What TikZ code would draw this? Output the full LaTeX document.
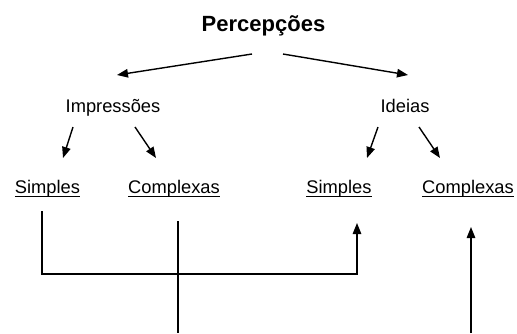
\documentclass[tikz,border=0pt]{standalone}
\usepackage{fontspec}
\setmainfont{Liberation Sans}
\usetikzlibrary{arrows.meta}
\begin{document}
\begin{tikzpicture}[x=1pt,y=-1pt,
  lbl/.style={inner sep=0pt,anchor=base,font=\fontsize{18.3}{22}\selectfont},
  ttl/.style={inner sep=0pt,anchor=base,font=\fontsize{22}{26}\selectfont\bfseries},
  arr/.style={line width=1.4pt,-{Triangle[length=11pt,width=8.5pt]}},
  ln/.style={line width=1.4pt},
  ul/.style={line width=1.2pt}]
\useasboundingbox (0,0) rectangle (517,333);
\node[ttl] (p) at (263.5,31) {Percepções};
\node[lbl] (imp) at (113,112) {Impressões};
\node[lbl] (id) at (405,112) {Ideias};
\node[lbl] (s1) at (47.5,193.5) {Simples};
\node[lbl] (c1) at (174,193.5) {Complexas};
\node[lbl] (s2) at (339,193.5) {Simples};
\node[lbl] (c2) at (468,193.5) {Complexas};
\foreach \n in {s1,c1,s2,c2}
  \draw[ul] ([yshift=-3pt]\n.base west) -- ([yshift=-3pt]\n.base east);
\draw[arr] ([shift={(-11.5,23)}]p.base) -- ([shift={(4,-37)}]imp.base);
\draw[arr] ([shift={(19.5,23)}]p.base) -- ([shift={(3,-37)}]id.base);
\draw[arr] ([shift={(-40,15)}]imp.base) -- ([shift={(15.5,-35.5)}]s1.base);
\draw[arr] ([shift={(22,15)}]imp.base) -- ([shift={(-18,-35.5)}]c1.base);
\draw[arr] ([shift={(-27,15)}]id.base) -- ([shift={(28,-35.5)}]s2.base);
\draw[arr] ([shift={(14,15)}]id.base) -- ([shift={(-28,-35.5)}]c2.base);
\draw[arr] ([shift={(-5.5,17.5)}]s1.base) |- ([shift={(18,80.5)}]s2.base) -- ([shift={(18,29.5)}]s2.base);
\coordinate (b1) at (178,333);
\coordinate (b2) at (471,333);
\draw[ln] ([shift={(4,27.5)}]c1.base) -- (b1);
\draw[arr] (b2) -- ([shift={(3,33.5)}]c2.base);
\end{tikzpicture}
\end{document}
